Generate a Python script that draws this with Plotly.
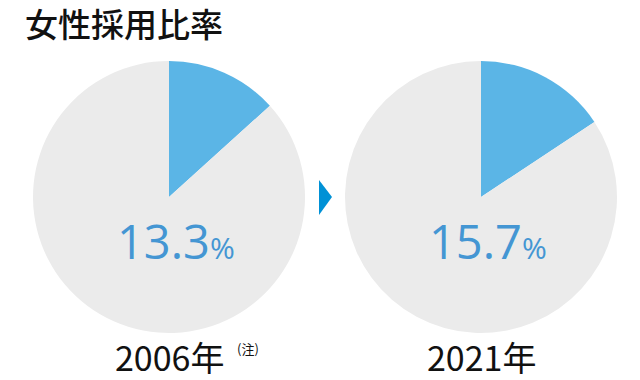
import plotly.graph_objects as go

title = "女性採用比率"
years = ["2006年", "2021年"]
rates = [13.3, 15.7]
labels = ["女性", "男性"]

W, H = 640, 380
BLUE = "#5BB5E6"
GREY = "#EBEBEB"
TXT_BLUE = "#4496D3"
FONT = "Noto Sans CJK JP"

fig = go.Figure()
domains = [(33, 305), (345, 617)]
top, bottom = 61, 333
for (x0, x1), r in zip(domains, rates):
    fig.add_trace(go.Pie(
        labels=labels, values=[r, 100 - r], sort=False, direction="clockwise",
        rotation=0, textinfo="none", hoverinfo="none",
        marker=dict(colors=[BLUE, GREY], line=dict(width=0)),
        domain=dict(x=[x0 / W, x1 / W], y=[1 - bottom / H, 1 - top / H]),
        showlegend=False,
    ))

anns = []
anns.append(dict(x=23 / W, y=1 - 23 / H, xref="paper", yref="paper", xanchor="left", yanchor="middle",
                 text=title, showarrow=False, font=dict(family=FONT, size=33, color="#111111", weight=500)))
for (x0, x1), r, yr in zip(domains, rates, years):
    cx = (x0 + x1) / 2
    anns.append(dict(x=(cx + 7) / W, y=1 - 241 / H, xref="paper", yref="paper", xanchor="center", yanchor="middle",
                     text=f"{r:.1f}<span style='font-size:30px'>%</span>", showarrow=False,
                     font=dict(family="Open Sans", size=47, color=TXT_BLUE, weight=500)))
anns.append(dict(x=169 / W, y=1 - 356 / H, xref="paper", yref="paper", xanchor="center", yanchor="middle",
                 text=years[0], showarrow=False, font=dict(family=FONT, size=34, color="#111111")))
anns.append(dict(x=248 / W, y=1 - 348 / H, xref="paper", yref="paper", xanchor="center", yanchor="middle",
                 text="(注)", showarrow=False, font=dict(family=FONT, size=13, color="#111111")))
anns.append(dict(x=481 / W, y=1 - 356 / H, xref="paper", yref="paper", xanchor="center", yanchor="middle",
                 text=years[1], showarrow=False, font=dict(family=FONT, size=34, color="#111111")))

tri = f"M {319/W},{1-180/H} L {332/W},{1-197/H} L {319/W},{1-215/H} Z"
fig.update_layout(
    width=W, height=H, margin=dict(l=0, r=0, t=0, b=0),
    paper_bgcolor="white", plot_bgcolor="white",
    annotations=anns,
    shapes=[dict(type="path", path=tri, xref="paper", yref="paper", fillcolor="#0091D6", line=dict(width=0))],
)
fig.write_html("out.html")
